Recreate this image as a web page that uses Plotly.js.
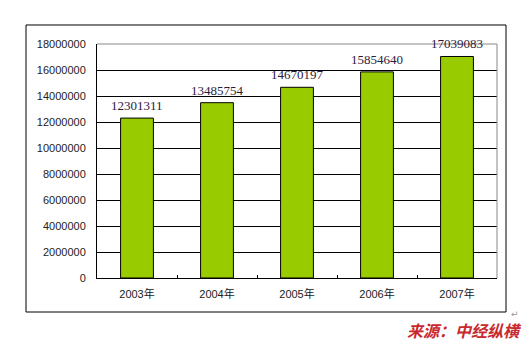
<!DOCTYPE html>
<html>
<head>
<meta charset="utf-8">
<script src="https://cdn.plot.ly/plotly-3.0.1.min.js"></script>
<style>html,body{margin:0;padding:0;background:#fff;}#chart{width:530px;height:343px;}</style>
</head>
<body>
<div id="chart"></div>
<script>
var years = ["2003年", "2004年", "2005年", "2006年", "2007年"];
var values = [12301311, 13485754, 14670197, 15854640, 17039083];
var yTicks = [0, 2000000, 4000000, 6000000, 8000000, 10000000, 12000000, 14000000, 16000000, 18000000];
var sourceText = "来源：中经纵横";

var trace = {
  type: "bar",
  x: years,
  y: values,
  cliponaxis: false,
  marker: {color: "#99cc00", line: {color: "#000", width: 1}},
  width: 0.41,
  hoverinfo: "none"
};

var labelAnnotations = years.map(function (yr, i) {
  return {
    x: yr, y: values[i], xref: "x", yref: "y",
    text: String(values[i]),
    showarrow: false, xanchor: "center", yanchor: "bottom", yshift: 3,
    font: {family: "Liberation Serif, DejaVu Serif, serif", size: 13, color: "#2d1b3d"}
  };
});

var layout = {
  width: 530, height: 343,
  margin: {l: 97, r: 33, t: 44, b: 65},
  paper_bgcolor: "#fff", plot_bgcolor: "#fff",
  showlegend: false,
  font: {family: "Liberation Sans, Arial, Noto Sans CJK SC, sans-serif", size: 11, color: "#222"},
  xaxis: {
    type: "category",
    showline: true, linecolor: "#000", linewidth: 1,
    ticks: "inside", tickson: "boundaries", ticklen: 3, tickcolor: "#000",
    showgrid: false,
    tickfont: {family: "Liberation Sans, Arial, Noto Sans CJK SC, sans-serif", size: 11, color: "#222"},
    ticklabelstandoff: 6
  },
  yaxis: {
    range: [0, 18000000],
    tickvals: yTicks,
    ticktext: yTicks.map(String),
    showline: true, linecolor: "#000", linewidth: 1,
    showgrid: true, gridcolor: "#000", gridwidth: 1,
    zeroline: false,
    ticks: "",
    tickfont: {family: "Liberation Sans, Arial, sans-serif", size: 11, color: "#222"},
    ticklabelstandoff: 8
  },
  shapes: [
    {type: "rect", xref: "paper", yref: "paper", x0: -0.1775, x1: 1.0225, y0: -0.1453, y1: 1.0812,
     line: {color: "#000", width: 1}, fillcolor: "rgba(0,0,0,0)", layer: "below"},
    {type: "line", xref: "paper", yref: "paper", x0: 0, x1: 1, y0: 1, y1: 1,
     line: {color: "#888", width: 1}, layer: "above"},
    {type: "line", xref: "paper", yref: "paper", x0: 1, x1: 1, y0: 0, y1: 1,
     line: {color: "#888", width: 1}, layer: "above"}
  ],
  annotations: labelAnnotations.concat([
    {text: sourceText, xref: "paper", yref: "paper", x: 1.0675, y: -0.222,
     xanchor: "right", yanchor: "middle", showarrow: false,
     font: {family: "Noto Sans CJK SC", size: 16, color: "#c8282e", weight: "bold", style: "italic"}},
    {text: "↵", xref: "paper", yref: "paper", x: 1.045, y: -0.154,
     xanchor: "center", yanchor: "middle", showarrow: false,
     font: {family: "DejaVu Sans", size: 9, color: "#999"}}
  ])
};

Plotly.newPlot("chart", [trace], layout, {staticPlot: true, displayModeBar: false});
</script>
</body>
</html>
